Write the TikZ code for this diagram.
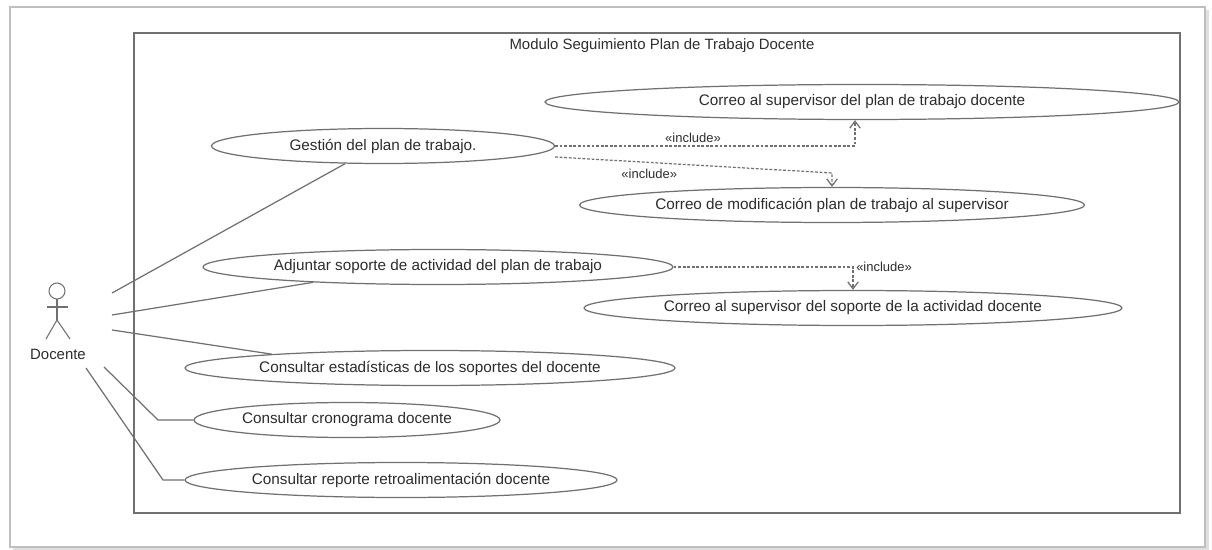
\documentclass[tikz,border=0pt]{standalone}
\usepackage{fontspec}
\setmainfont{Liberation Sans}
\usepackage{tikz}
\usepackage{xcolor}
\usetikzlibrary{shapes.geometric,arrows.meta}
\definecolor{linea}{RGB}{112,112,112}
\definecolor{texto}{RGB}{45,45,45}
\tikzstyle{caso} = [ellipse, draw=linea, fill=white, minimum height=0.7cm, inner sep=0pt, text=texto, font=\fontsize{8.7}{10}\selectfont]
\tikzstyle{incluye} = [->, dash pattern=on 1.6pt off 1pt]
\tikzstyle{etiq} = [text=texto, inner sep=1.5pt, font=\fontsize{7.4}{9}\selectfont]

\begin{document}
\begin{tikzpicture}[x=0.02cm,y=-0.02cm,>={Straight Barb[length=4pt,width=6pt]},color=linea,line width=0.7pt]
  \useasboundingbox (0,0) rectangle (1212,550);
  % marcos
  \draw[gray!25, line width=2pt] (13,549) -- (1207,549) -- (1207,10);
  \draw[gray!50, line width=0.8pt] (10,7) rectangle (1205,547);
  \draw (134,33) rectangle (1180,513);
  \node[text=texto, font=\fontsize{8.5}{10}\selectfont] (Modulo) at (662,46) {Modulo Seguimiento Plan de Trabajo Docente};

  % casos de uso
  \node[caso, minimum width=12.68cm] (Correo_plan) at (862,102) {Correo al supervisor del plan de trabajo docente};
  \node[caso, minimum width=6.86cm] (Gestion) at (383,146) {Gestión del plan de trabajo.};
  \node[caso, minimum width=10.1cm] (Modificacion) at (832,205) {Correo de modificación plan de trabajo al supervisor};
  \node[caso, minimum width=9.4cm] (Adjuntar) at (438,267) {Adjuntar soporte de actividad del plan de trabajo};
  \node[caso, minimum width=10.76cm] (Correo_soporte) at (853,308) {Correo al supervisor del soporte de la actividad docente};
  \node[caso, minimum width=9.8cm] (Estadisticas) at (430,368) {Consultar estadísticas de los soportes del docente};
  \node[caso, minimum width=6.12cm] (Cronograma) at (347,420) {Consultar cronograma docente};
  \node[caso, minimum width=8.64cm] (Reporte) at (401,480) {Consultar reporte retroalimentación docente};

  % actor
  \draw[line width=0.6pt] (57,291) circle[radius=8];
  \draw[line width=0.6pt] (57,299) -- (57,320);
  \draw[line width=0.6pt] (47,307) -- (68,307);
  \draw[line width=0.6pt] (46,339) -- (57,320) -- (70,339);
  \node[text=texto, font=\fontsize{8.5}{10}\selectfont] (Docente) at (58,354) {Docente};

  \coordinate (D_uno) at (112,293);
  \coordinate (D_dos) at (112,315);
  \coordinate (D_tres) at (112,330);
  \coordinate (D_cuatro) at (104,367);
  \coordinate (D_cinco) at (86,368);
  \coordinate (Q_cuatro) at (158,420);
  \coordinate (Q_cinco) at (163,480);
  \coordinate (Esq_mod) at (832,173);

  \path (D_uno) edge node {} (Gestion.205);
  \path (D_dos) edge node {} (Adjuntar.187);
  \path (D_tres) edge node {} (Estadisticas.175);
  \draw (D_cuatro) -- (Q_cuatro) -- (Cronograma.west);
  \draw (D_cinco) -- (Q_cinco) -- (Reporte.west);

  \draw[incluye] (Gestion.east) -| node[pos=0.23, above, etiq] {«include»} ([xshift=-0.14cm]Correo_plan.south);
  \draw[incluye] ([yshift=-0.22cm]Gestion.east) -- node[pos=0.34, below, etiq, yshift=-2pt] {«include»} (Esq_mod) -- (Modificacion.north);
  \draw[incluye] (Adjuntar.east) -| node[pos=0.5, right, etiq] {«include»} (Correo_soporte.north);
\end{tikzpicture}
\end{document}
